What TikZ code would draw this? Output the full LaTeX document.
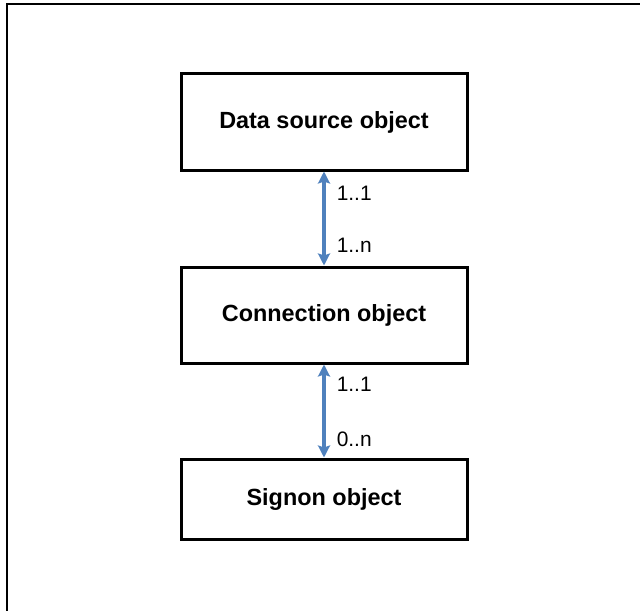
\documentclass[tikz,border=0pt]{standalone}
\usepackage{fontspec}
\setmainfont{Liberation Sans}
\usepackage{xcolor}
\usepackage{tikz}
\usetikzlibrary{arrows.meta}
\definecolor{linkblue}{RGB}{79,129,189}

\tikzset{
  objbox/.style={draw, rectangle, line width=3bp, minimum width=286bp, minimum height=96bp,
    font=\bfseries\fontsize{23.5}{28}\selectfont},
  link/.style={{Stealth[length=12bp,width=12bp,inset=2bp]}-{Stealth[length=12bp,width=12bp,inset=2bp]},
    linkblue, line width=3.5bp},
  mult/.style={inner sep=0pt, right=11bp, text=black, font=\fontsize{21}{25}\selectfont}
}

\begin{document}
\begin{tikzpicture}[x=1bp, y=-1bp]
\useasboundingbox (0,0) rectangle (640,611);
% frame
\draw[line width=2bp] (7,611) -- (7,4) -- (640,4);

\node[objbox] (source) at (324,122) {Data source object};
\node[objbox] (conn) at (324,315) {Connection object};
\node[objbox, minimum height=80bp] (signon) at (324,499) {Signon object};

\draw[link] (source) -- (conn) node[mult, pos=0.23] {1..1} node[mult, pos=0.79] {1..n};
\draw[link] (conn) -- (signon) node[mult, pos=0.21] {1..1} node[mult, pos=0.80] {0..n};
\end{tikzpicture}
\end{document}
